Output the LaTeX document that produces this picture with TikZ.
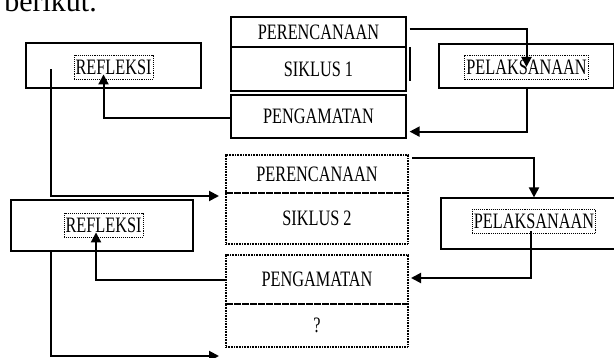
\documentclass[tikz,border=0pt]{standalone}
\usepackage{fontspec}
\setmainfont{Liberation Serif}
\newfontfamily\boxfont[FakeStretch=0.74]{Liberation Serif}
\usetikzlibrary{arrows.meta,calc}

\begin{document}
\begin{tikzpicture}[x=1pt,y=-1pt,
  box/.style={draw,line width=1.2pt,minimum width=175pt,inner sep=0pt,font=\boxfont\fontsize{22}{26}\selectfont},
  dbox/.style={box,dash pattern=on 1pt off 0.6pt,line width=2pt,minimum width=182pt},
  lbl/.style={draw,densely dotted,line width=0.9pt,inner sep=1.5pt,minimum height=24pt,font=\boxfont\fontsize{22}{26}\selectfont},
  conn/.style={line width=2pt,-{Triangle[length=10pt,width=10pt]}}]
  \useasboundingbox (0,0) rectangle (614,358);
  \fill[white] (0,0) rectangle (614,358);
  \node[anchor=base east,inner sep=0pt,font=\fontsize{30}{36}\selectfont] (head) at (97,12) {berikut.};

  % siklus 1
  \node[box,minimum height=30pt] (perA) at (318.5,32) {PERENCANAAN};
  \node[box,minimum height=44pt] (sikA) at (318.5,69) {SIKLUS 1};
  \node[box,minimum height=43pt] (pengA) at (318.5,116.5) {PENGAMATAN};
  \node[box,minimum height=45pt] (refA) at (113.5,65.5) {};
  \node[lbl] (refAt) at (113.5,67) {REFLEKSI};
  \node[box,minimum height=44pt] (plkA) at (526.5,66) {};
  \node[lbl] (plkAt) at (526.5,67) {PELAKSANAAN};
  \draw[line width=2pt] ($(sikA.north east)+(3,1)$) -- ($(sikA.south east)+(3,-11)$);

  % siklus 2
  \node[dbox,minimum height=38pt] (perB) at (317,174) {PERENCANAAN};
  \node[dbox,minimum height=51pt] (sikB) at (317,218.5) {SIKLUS 2};
  \node[dbox,minimum height=49pt] (pengB) at (317,279.5) {PENGAMATAN};
  \node[dbox,minimum height=43pt] (qB) at (317,325.5) {?};
  \node[box,minimum width=182pt,minimum height=51pt] (refB) at (102,225.5) {};
  \node[lbl] (refBt) at (103.5,225) {REFLEKSI};
  \node[box,minimum width=186pt,minimum height=51pt] (plkB) at (534,223.5) {};
  \node[lbl] (plkBt) at (534,221.5) {PELAKSANAAN};

  \draw[conn] ($(perA.east)+(3,-3)$) -| (plkAt.center);
  \draw[conn] (plkA.south) |- ($(pengA.south east)+(3,-7)$);
  \draw[conn] ($(pengA.west)+(0,1.5)$) -| ($(refAt.south)+(-10,-5)$);
  \draw[conn] ($(refA.west)+(26,4)$) |- ($(perB.south west)+(-6,2)$);
  \draw[conn] ($(perB.north east)+(3,4)$) -| (plkB.north);
  \draw[conn] ($(plkBt.south)+(-3,-3)$) |- ($(pengB.east)+(2,-1.5)$);
  \draw[conn] ($(pengB.west)+(0,0.5)$) -| ($(refBt.south)+(-7.5,-5)$);
  \draw[conn] ($(refB.south west)+(41,0)$) |- ($(qB.south west)+(-6,8)$);
\end{tikzpicture}
\end{document}
